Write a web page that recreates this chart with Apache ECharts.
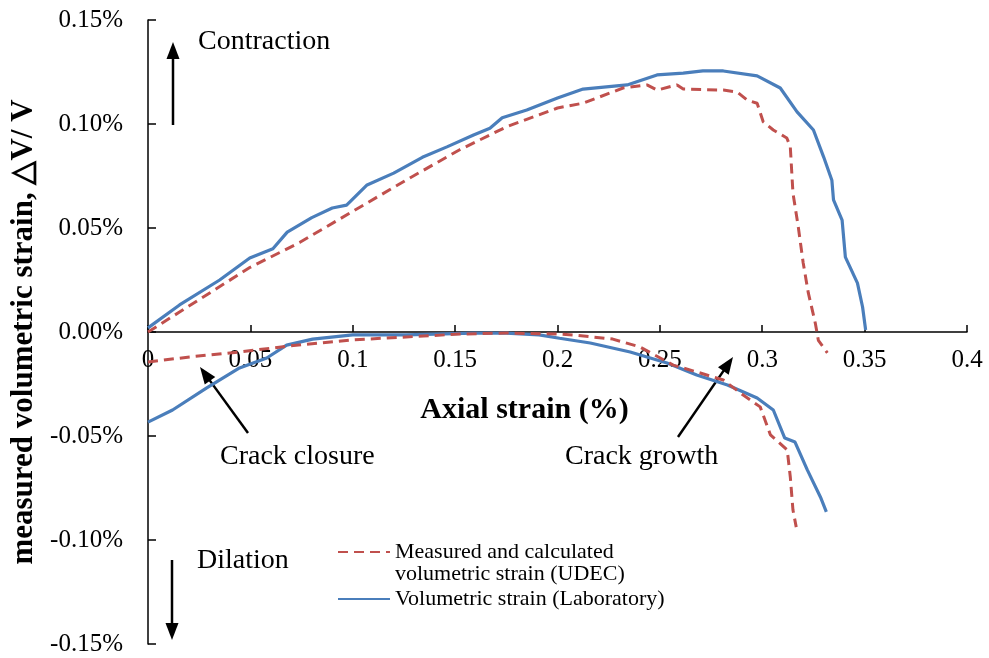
<!DOCTYPE html>
<html>
<head>
<meta charset="utf-8">
<script src="https://cdn.jsdelivr.net/npm/echarts@6/dist/echarts.min.js"></script>
<style>html,body{margin:0;padding:0;background:#fff;}#c{width:989px;height:658px;}</style>
</head>
<body>
<div id="c"></div>
<script>
// Axial strain (%) vs volumetric strain (%)
var labUpX = [0, 0.0154, 0.035, 0.0497, 0.061, 0.068, 0.080, 0.090, 0.097, 0.107, 0.120, 0.134, 0.146, 0.159, 0.167, 0.173, 0.185, 0.200, 0.2125, 0.234, 0.2486, 0.2614, 0.271, 0.281, 0.2975, 0.3088, 0.317, 0.325, 0.330, 0.334, 0.3348, 0.339, 0.3406, 0.3465, 0.349, 0.3505];
var labUpY = [0.002, 0.013, 0.025, 0.0356, 0.040, 0.048, 0.055, 0.0596, 0.061, 0.0707, 0.0764, 0.084, 0.089, 0.0947, 0.098, 0.103, 0.1067, 0.1125, 0.1168, 0.1188, 0.1236, 0.1245, 0.1255, 0.1255, 0.1231, 0.1173, 0.1058, 0.0971, 0.0841, 0.073, 0.0635, 0.0538, 0.036, 0.0235, 0.012, 0.001];

var labLowX = [0, 0.012, 0.0285, 0.0447, 0.058, 0.0677, 0.0804, 0.100, 0.126, 0.1587, 0.175, 0.191, 0.201, 0.216, 0.2355, 0.2535, 0.268, 0.283, 0.2975, 0.3054, 0.311, 0.316, 0.322, 0.3284, 0.3313];
var labLowY = [-0.0433, -0.0375, -0.027, -0.0173, -0.0125, -0.0063, -0.0034, -0.0014, -0.0014, -0.0005, -0.0005, -0.0014, -0.003, -0.0053, -0.0096, -0.0149, -0.0207, -0.0255, -0.0317, -0.0375, -0.051, -0.0529, -0.0663, -0.0793, -0.0865];

var udecUpX = [0, 0.0154, 0.0497, 0.074, 0.100, 0.126, 0.152, 0.175, 0.200, 0.2125, 0.232, 0.2437, 0.2486, 0.2584, 0.2614, 0.281, 0.2877, 0.2926, 0.2975, 0.3005, 0.3054, 0.312, 0.3137, 0.315, 0.3176, 0.320, 0.3225, 0.3259, 0.3274, 0.3318];
var udecUpY = [0, 0.0096, 0.031, 0.043, 0.058, 0.073, 0.0875, 0.0986, 0.1077, 0.110, 0.1173, 0.1188, 0.1163, 0.1188, 0.1168, 0.1163, 0.1154, 0.1115, 0.110, 0.101, 0.0971, 0.0933, 0.089, 0.0668, 0.0505, 0.0332, 0.0188, 0.0043, -0.004, -0.010];

var udecLowX = [0, 0.0203, 0.0447, 0.069, 0.100, 0.126, 0.152, 0.175, 0.2012, 0.2075, 0.227, 0.2403, 0.2565, 0.268, 0.281, 0.2907, 0.299, 0.304, 0.3122, 0.3137, 0.315, 0.3166];
var udecLowY = [-0.0144, -0.012, -0.0096, -0.0067, -0.0038, -0.0024, -0.001, -0.0005, -0.001, -0.0014, -0.0034, -0.0072, -0.0159, -0.0192, -0.0231, -0.0303, -0.036, -0.0495, -0.0567, -0.0697, -0.0856, -0.0938];

var nameUDEC = 'Measured and calculated\nvolumetric strain (UDEC)';
var nameLab = 'Volumetric strain (Laboratory)';
var xAxisTitle = 'Axial strain (%)';
var yAxisTitle = 'measured volumetric strain, \u25B3V/ V';

function pairs(xs, ys) { return xs.map(function (x, i) { return [x, ys[i]]; }); }

var FONT = 'Liberation Serif';
var BLUE = '#4a7ebb';
var RED = '#c0504d';

var GRID_TOP = 20, GRID_BOTTOM = 14, CHART_H = 658;
var Y_MIN = -0.15, Y_MAX = 0.15;
// x axis sits on y = 0 (offset from grid bottom, computed from the y range)
var zeroOffset = -((0 - Y_MIN) / (Y_MAX - Y_MIN)) * (CHART_H - GRID_TOP - GRID_BOTTOM);

function arrow(x1, y1, x2, y2) {
  var dx = x2 - x1, dy = y2 - y1, L = Math.sqrt(dx * dx + dy * dy);
  var ux = dx / L, uy = dy / L, hl = 17, hw = 6.5;
  var bx = x2 - ux * hl, by = y2 - uy * hl;
  return [
    { type: 'line', shape: { x1: x1, y1: y1, x2: bx + ux * 2, y2: by + uy * 2 }, style: { stroke: '#000', lineWidth: 2.5 }, silent: true },
    { type: 'polygon', shape: { points: [[x2, y2], [bx - uy * hw, by + ux * hw], [bx + uy * hw, by - ux * hw]] }, style: { fill: '#000' }, silent: true }
  ];
}

var chart = echarts.init(document.getElementById('c'), null, { renderer: 'canvas' });
var lineBase = { type: 'line', showSymbol: false, symbol: 'none', animation: false, smooth: false };

var graphics = [].concat(
  arrow(173, 125, 173, 42),
  arrow(172, 560, 172, 640),
  arrow(248, 433, 200, 367),
  arrow(678, 437, 733, 357),
  [
    { type: 'text', left: 198, top: 28, style: { text: 'Contraction', font: '28px "' + FONT + '"', fill: '#000' } },
    { type: 'text', left: 197, top: 547, style: { text: 'Dilation', font: '28px "' + FONT + '"', fill: '#000' } },
    { type: 'text', left: 220, top: 443, style: { text: 'Crack closure', font: '28px "' + FONT + '"', fill: '#000' } },
    { type: 'text', left: 565, top: 443, style: { text: 'Crack growth', font: '28px "' + FONT + '"', fill: '#000' } }
  ]
);

chart.setOption({
  animation: false,
  backgroundColor: '#fff',
  textStyle: { fontFamily: FONT },
  grid: { left: 148, right: 22, top: GRID_TOP, bottom: GRID_BOTTOM, containLabel: false, outerBoundsMode: 'none' },
  legend: {
    orient: 'vertical',
    left: 332,
    top: 514,
    itemWidth: 52,
    itemHeight: 14,
    itemGap: 3,
    textGap: 6,
    itemStyle: { opacity: 0 },
    textStyle: { fontFamily: FONT, fontSize: 22, lineHeight: 22, color: '#000' },
    formatter: function (n) { return n === nameUDEC ? '\n' + n : n; },
    data: [ { name: nameUDEC }, { name: nameLab } ]
  },
  xAxis: {
    type: 'value',
    min: 0, max: 0.4, interval: 0.05,
    offset: zeroOffset,
    name: xAxisTitle,
    nameLocation: 'middle',
    nameGap: 63,
    nameTextStyle: { fontFamily: FONT, fontSize: 30, fontWeight: 'bold', color: '#000', padding: [0, 66, 0, 0] },
    axisLine: { onZero: false, lineStyle: { color: '#000', width: 1.5 } },
    axisTick: { inside: true, length: 7, lineStyle: { color: '#000', width: 1.5 } },
    axisLabel: { margin: 16, fontFamily: FONT, fontSize: 25, color: '#000', formatter: function (v) { return String(+v.toFixed(2)); } },
    splitLine: { show: false }
  },
  yAxis: {
    type: 'value',
    min: Y_MIN, max: Y_MAX, interval: 0.05,
    name: yAxisTitle,
    nameLocation: 'middle',
    nameGap: 100,
    nameTextStyle: { fontFamily: FONT, fontSize: 31, fontWeight: 'bold', color: '#000' },
    axisLine: { show: true, onZero: false, lineStyle: { color: '#000', width: 1.5 } },
    axisTick: { show: true, inside: true, length: 8, lineStyle: { color: '#000', width: 1.5 } },
    axisLabel: { margin: 25, fontFamily: FONT, fontSize: 25, color: '#000', formatter: function (v) { return v.toFixed(2) + '%'; } },
    splitLine: { show: false }
  },
  series: [
    Object.assign({}, lineBase, { name: nameLab, data: pairs(labUpX, labUpY), lineStyle: { color: BLUE, width: 3.2 }, itemStyle: { color: BLUE } }),
    Object.assign({}, lineBase, { name: nameLab, data: pairs(labLowX, labLowY), lineStyle: { color: BLUE, width: 3.2 }, itemStyle: { color: BLUE } }),
    Object.assign({}, lineBase, { name: nameUDEC, data: pairs(udecUpX, udecUpY), lineStyle: { color: RED, width: 3, type: [10, 6] }, itemStyle: { color: RED } }),
    Object.assign({}, lineBase, { name: nameUDEC, data: pairs(udecLowX, udecLowY), lineStyle: { color: RED, width: 3, type: [10, 6] }, itemStyle: { color: RED } })
  ],
  graphic: graphics
});
</script>
</body>
</html>
